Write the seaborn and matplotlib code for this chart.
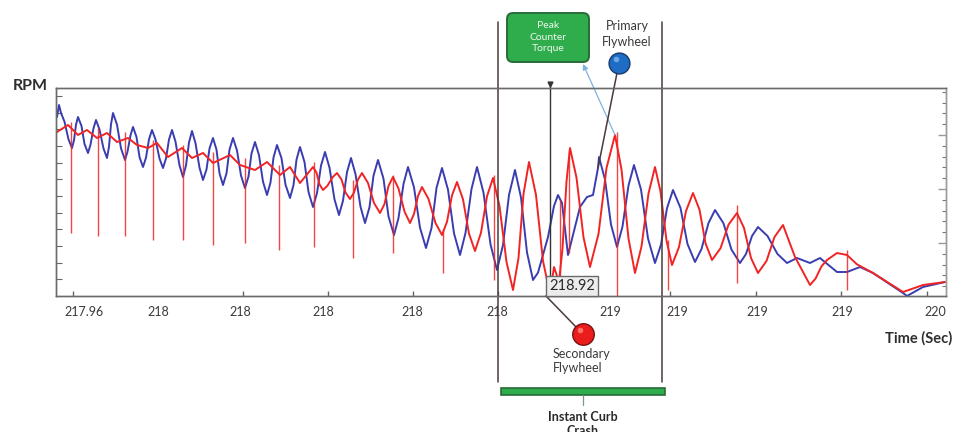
import matplotlib
matplotlib.use("Agg")
import matplotlib.pyplot as plt
from matplotlib.patches import FancyBboxPatch, Rectangle
from matplotlib.lines import Line2D
from matplotlib.transforms import IdentityTransform
import seaborn as sns

sns.set_theme(style="white")
plt.rcParams["font.family"] = ["Lato", "DejaVu Sans"]

# ---- primary flywheel speed (time in s, RPM) ----
PRIMARY_T = [
    217.934, 217.938, 217.942, 217.949, 217.957, 217.964, 217.968, 217.972, 217.976,
    217.983, 217.989, 217.996, 218.001, 218.007, 218.012, 218.019, 218.027, 218.034,
    218.038, 218.042, 218.046, 218.054, 218.062, 218.070, 218.075, 218.081, 218.086,
    218.093, 218.099, 218.106, 218.112, 218.118, 218.124, 218.131, 218.139, 218.146,
    218.152, 218.158, 218.164, 218.171, 218.179, 218.186, 218.192, 218.198, 218.204,
    218.211, 218.219, 218.226, 218.233, 218.239, 218.246, 218.253, 218.259, 218.266,
    218.273, 218.279, 218.286, 218.294, 218.302, 218.310, 218.317, 218.323, 218.330,
    218.338, 218.346, 218.354, 218.361, 218.367, 218.374, 218.383, 218.391, 218.400,
    218.407, 218.413, 218.420, 218.429, 218.437, 218.446, 218.454, 218.462, 218.470,
    218.479, 218.489, 218.498, 218.506, 218.514, 218.522, 218.531, 218.541, 218.550,
    218.559, 218.567, 218.576, 218.587, 218.597, 218.608, 218.617, 218.627, 218.636,
    218.648, 218.660, 218.672, 218.683, 218.693, 218.704, 218.716, 218.728, 218.740,
    218.751, 218.763, 218.774, 218.787, 218.801, 218.814, 218.826, 218.838, 218.850,
    218.862, 218.874, 218.886, 218.896, 218.916, 218.928, 218.936, 218.944, 218.956,
    218.980, 218.994, 219.006, 219.016, 219.018, 219.030, 219.042, 219.054, 219.065,
    219.077, 219.088, 219.102, 219.116, 219.130, 219.142, 219.154, 219.166, 219.181,
    219.195, 219.210, 219.223, 219.237, 219.250, 219.267, 219.283, 219.300, 219.312,
    219.324, 219.336, 219.355, 219.375, 219.394, 219.414, 219.440, 219.460, 219.494,
    219.514, 219.540, 219.566, 219.626, 219.634, 219.666, 219.710]
PRIMARY_RPM = [
    2074, 2146, 2098, 2046, 1940, 1888, 1934, 2028, 2074,
    2020, 1912, 1858, 1908, 2006, 2056, 1999, 1885, 1828,
    1896, 2030, 2098, 2028, 1886, 1816, 1866, 1964, 2014,
    1954, 1834, 1774, 1830, 1940, 1996, 1939, 1825, 1768,
    1825, 1939, 1996, 1926, 1784, 1714, 1783, 1921, 1990,
    1917, 1770, 1696, 1759, 1885, 1948, 1878, 1736, 1666,
    1736, 1878, 1948, 1873, 1723, 1648, 1717, 1855, 1924,
    1845, 1686, 1606, 1681, 1831, 1906, 1827, 1668, 1588,
    1665, 1818, 1894, 1804, 1624, 1534, 1617, 1782, 1864,
    1770, 1580, 1486, 1572, 1743, 1828, 1731, 1536, 1438,
    1533, 1722, 1816, 1704, 1478, 1366, 1468, 1672, 1774,
    1652, 1410, 1288, 1408, 1648, 1768, 1638, 1376, 1246,
    1378, 1642, 1774, 1620, 1310, 1156, 1306, 1606, 1756,
    1591, 1261, 1096, 1140, 1354, 1540, 1606, 1558, 1246,
    1534, 1594, 1606, 1768, 1834, 1699, 1429, 1294, 1417,
    1663, 1786, 1639, 1345, 1198, 1308, 1527, 1636, 1528,
    1312, 1204, 1282, 1438, 1516, 1436, 1278, 1198, 1252,
    1360, 1414, 1360, 1252, 1198, 1228, 1198, 1228, 1144,
    1144, 1174, 1138, 1018, 1000, 1054, 1084]

# ---- secondary flywheel speed (time in s, RPM) ----
SECONDARY_T = [
    217.934, 217.956, 217.976, 217.994, 218.014, 218.034, 218.054, 218.076, 218.094,
    218.116, 218.134, 218.156, 218.184, 218.204, 218.226, 218.246, 218.280, 218.300,
    218.330, 218.354, 218.380, 218.400, 218.420, 218.446, 218.453, 218.459, 218.466,
    218.475, 218.485, 218.494, 218.503, 218.511, 218.520, 218.528, 218.536, 218.544,
    218.556, 218.568, 218.580, 218.589, 218.597, 218.606, 218.617, 218.629, 218.640,
    218.648, 218.656, 218.664, 218.677, 218.691, 218.704, 218.714, 218.724, 218.734,
    218.746, 218.758, 218.770, 218.782, 218.794, 218.806, 218.819, 218.833, 218.846,
    218.857, 218.867, 218.878, 218.892, 218.906, 218.920, 218.928, 218.938, 218.945,
    218.953, 218.960, 218.973, 218.987, 219.000, 219.017, 219.033, 219.050, 219.063,
    219.077, 219.090, 219.103, 219.117, 219.130, 219.141, 219.153, 219.164, 219.178,
    219.192, 219.206, 219.219, 219.231, 219.244, 219.261, 219.277, 219.294, 219.308,
    219.322, 219.336, 219.353, 219.369, 219.386, 219.410, 219.440, 219.451, 219.463,
    219.474, 219.494, 219.514, 219.534, 219.566, 219.626, 219.666, 219.710]
SECONDARY_RPM = [
    1984, 2026, 1966, 1996, 1948, 1978, 1924, 1948, 1906,
    1888, 1918, 1834, 1888, 1828, 1858, 1798, 1846, 1786,
    1756, 1804, 1726, 1774, 1678, 1774, 1740, 1670, 1636,
    1662, 1712, 1738, 1699, 1621, 1582, 1621, 1699, 1738,
    1678, 1558, 1498, 1552, 1660, 1714, 1645, 1507, 1438,
    1492, 1600, 1654, 1582, 1438, 1366, 1446, 1604, 1684,
    1580, 1374, 1270, 1380, 1598, 1708, 1540, 1204, 1036,
    1228, 1612, 1804, 1606, 1210, 1012, 1174, 1084, 1285,
    1687, 1888, 1710, 1352, 1174, 1372, 1768, 1966, 1759,
    1345, 1138, 1297, 1615, 1774, 1627, 1333, 1186, 1294,
    1510, 1618, 1518, 1316, 1216, 1286, 1428, 1498, 1408,
    1228, 1138, 1210, 1354, 1426, 1234, 1066, 1104, 1178,
    1216, 1258, 1246, 1190, 1138, 1024, 1066, 1084]

# ---- sharp speed drops on the secondary flywheel ----
DROP_T = [217.962, 218.016, 218.070, 218.126, 218.186, 218.246, 218.310, 218.378,
          218.448, 218.526, 218.606, 218.706, 218.808, 218.940, 218.958, 219.054,
          219.156, 219.294, 219.514]
DROP_TOP = [2044, 2008, 1984, 1936, 1906, 1864, 1828, 1786,
            1804, 1696, 1726, 1396, 1726, 1576, 1876, 1984,
            1336, 1546, 1276]
DROP_LOW = [1378, 1360, 1360, 1336, 1336, 1306, 1318, 1276,
            1294, 1228, 1258, 1138, 1096, 1000, 1258, 1000,
            1036, 1078, 1036]

# ---- axis decoration ----
TICK_T = [217.966, 218.136, 218.306, 218.476, 218.646, 218.816, 218.988, 219.160,
          219.332, 219.502, 219.674]
LABEL_T = [217.988, 218.136, 218.300, 218.466, 218.644, 218.814, 219.040, 219.174,
           219.334, 219.504, 219.690]
LABELS = ["217.96", "218", "218", "218", "218", "218", "219", "219", "219", "219", "220"]
RPM_TICKS = [1100, 1200, 1300, 1400, 1500, 1600, 1700, 1800, 1900, 2000, 2100, 2200]

CRASH_WINDOW = [218.816, 219.144]
CURSOR_T = 218.92
PRIMARY_PEAK = (219.016, 1768)
SECONDARY_PEAK = (219.050, 1966)

BLUE = "#3a3db0"
RED = "#f02424"
GREEN = "#2fac4c"
DARK_GREEN = "#2a6b38"
BROWN = "#4a3a3a"
TEXT = "#3a3a3a"

W, H = 960, 432
fig = plt.figure(figsize=(W / 100, H / 100), dpi=100)
ax = fig.add_axes([56 / W, 1 - 296 / H, 890 / W, 208 / H])

sns.lineplot(x=PRIMARY_T, y=PRIMARY_RPM, ax=ax, color=BLUE, lw=1.4,
             estimator=None, sort=False)
sns.lineplot(x=SECONDARY_T, y=SECONDARY_RPM, ax=ax, color=RED, lw=1.4,
             estimator=None, sort=False)
ax.vlines(DROP_T, DROP_LOW, DROP_TOP, color=RED, lw=1.0, alpha=0.85)

ax.set_xlim(217.932, 219.712)
ax.set_ylim(1000, 2248)
ax.set_xlabel("")
ax.set_ylabel("")

ax.set_xticks(LABEL_T)
ax.set_xticklabels(LABELS, fontsize=9, color=TEXT)
ax.set_xticks(TICK_T, minor=True)
ax.tick_params(axis="x", which="major", length=0, pad=7)
ax.tick_params(axis="x", which="minor", direction="in", length=3.5,
               width=1, color="#666666", bottom=True)
ax.set_yticks(RPM_TICKS)
ax.set_yticklabels([])
ax.tick_params(axis="y", which="major", direction="in", length=4,
               width=0.8, color="#666666", left=True)

ax2 = ax.twinx()
ax2.set_ylim(0.9, 193.5)
ax2.set_yticks([50, 100, 150])
ax2.set_yticks(list(range(10, 191, 10)), minor=True)
ax2.set_yticklabels([])
ax2.tick_params(axis="y", which="major", direction="in", length=6,
                width=1, color="#999999", right=True)
ax2.tick_params(axis="y", which="minor", direction="in", length=3,
                width=0.8, color="#777777", right=True)

for a in (ax, ax2):
    for side, sp in a.spines.items():
        sp.set_linewidth(1.0)
        sp.set_color("#6b6b6b" if side != "right" else "#9a9a9a")

# crash window brackets and cursor line
for t in CRASH_WINDOW:
    ax.axvline(t, ymin=(296 - 382) / 208, ymax=(296 - 22) / 208,
               color=BROWN, lw=1.1, clip_on=False, zorder=5)
ax.axvline(CURSOR_T, ymin=(296 - 278) / 208, ymax=(296 - 84) / 208,
           color="#333333", lw=1.0, clip_on=False, zorder=5)
ax.plot([CURSOR_T], [1000 + (296 - 84) * 6], marker="v", ms=3.5,
        color="#333333", clip_on=False, zorder=6)

pix = IdentityTransform()

def px(x, y):
    return (x, H - y)

# "Peak Counter Torque" callout
box = FancyBboxPatch(px(507, 62), 82, 49, boxstyle="round,pad=0,rounding_size=6",
                     transform=pix, facecolor=GREEN, edgecolor=DARK_GREEN, lw=1.4)
fig.patches.append(box)
fig.text(548 / W, 1 - 37 / H, "Peak\nCounter\nTorque", ha="center", va="center",
         fontsize=7.5, color="#eef8ee", linespacing=1.35)

ax.annotate("", xy=(583, H - 64), xycoords="figure pixels",
            xytext=SECONDARY_PEAK, textcoords="data",
            arrowprops=dict(arrowstyle="-|>", color="#7fb2e0", lw=0.9,
                            mutation_scale=8, shrinkA=0, shrinkB=0), zorder=6)

# primary flywheel marker
ax.annotate("", xy=PRIMARY_PEAK, xycoords="data",
            xytext=(619, H - 63), textcoords="figure pixels",
            arrowprops=dict(arrowstyle="-", color=BROWN, lw=1.1,
                            shrinkA=0, shrinkB=0), zorder=6)
fig.add_artist(Line2D([619 / W], [1 - 63 / H], marker="o", ms=15,
                      markerfacecolor="#1f6cc4", markeredgecolor="#163a6a",
                      markeredgewidth=1.0, transform=fig.transFigure))
fig.add_artist(Line2D([616 / W], [1 - 59 / H], marker="o", ms=4,
                      markerfacecolor="#7fb4ec", markeredgewidth=0, alpha=0.8,
                      transform=fig.transFigure))
fig.text(627 / W, 1 - 34 / H, "Primary\nFlywheel", ha="center", va="center",
         fontsize=9, color=TEXT, linespacing=1.3)

# cursor value label and secondary flywheel marker
fig.text(572 / W, 1 - 286 / H, f"{CURSOR_T:.2f}", ha="center", va="center",
         fontsize=10.5, color="#2a2a2a", zorder=8,
         bbox=dict(boxstyle="square,pad=0.18", facecolor="#ececec",
                   edgecolor="#6a6a6a", lw=1.0))
fig.add_artist(Line2D([546 / W, 577 / W], [1 - 296 / H, 1 - 328 / H], color=BROWN,
                      lw=1.1, transform=fig.transFigure))
fig.add_artist(Line2D([583 / W], [1 - 334 / H], marker="o", ms=15.5,
                      markerfacecolor="#ea1c1c", markeredgecolor="#7a1010",
                      markeredgewidth=1.0, transform=fig.transFigure))
fig.add_artist(Line2D([580 / W], [1 - 330 / H], marker="o", ms=4,
                      markerfacecolor="#ff8a80", markeredgewidth=0, alpha=0.8,
                      transform=fig.transFigure))
fig.text(553 / W, 1 - 361 / H, "Secondary\nFlywheel", ha="left", va="center",
         fontsize=9, color=TEXT, linespacing=1.3)

# crash window bar
bar = Rectangle(px(501, 395), 164, 7, transform=pix, facecolor=GREEN,
                edgecolor=DARK_GREEN, lw=1.2)
fig.patches.append(bar)
fig.add_artist(Line2D([583 / W, 583 / W], [1 - 395 / H, 1 - 405 / H],
                      color="#7a9a80", lw=0.9, transform=fig.transFigure))
fig.text(583 / W, 1 - 424 / H, "Instant Curb\nCrash", ha="center", va="center",
         fontsize=9, fontweight="bold", color="#2a2a2a", linespacing=1.25)

# axis titles
fig.text(30 / W, 1 - 86 / H, "RPM", ha="center", va="center", fontsize=11.5,
         fontweight="bold", color="#2e2e2e")
fig.text(919 / W, 1 - 338 / H, "Time (Sec)", ha="center", va="center",
         fontsize=10.5, fontweight="bold", color="#2e2e2e")

fig.savefig("out.png", dpi=100)
